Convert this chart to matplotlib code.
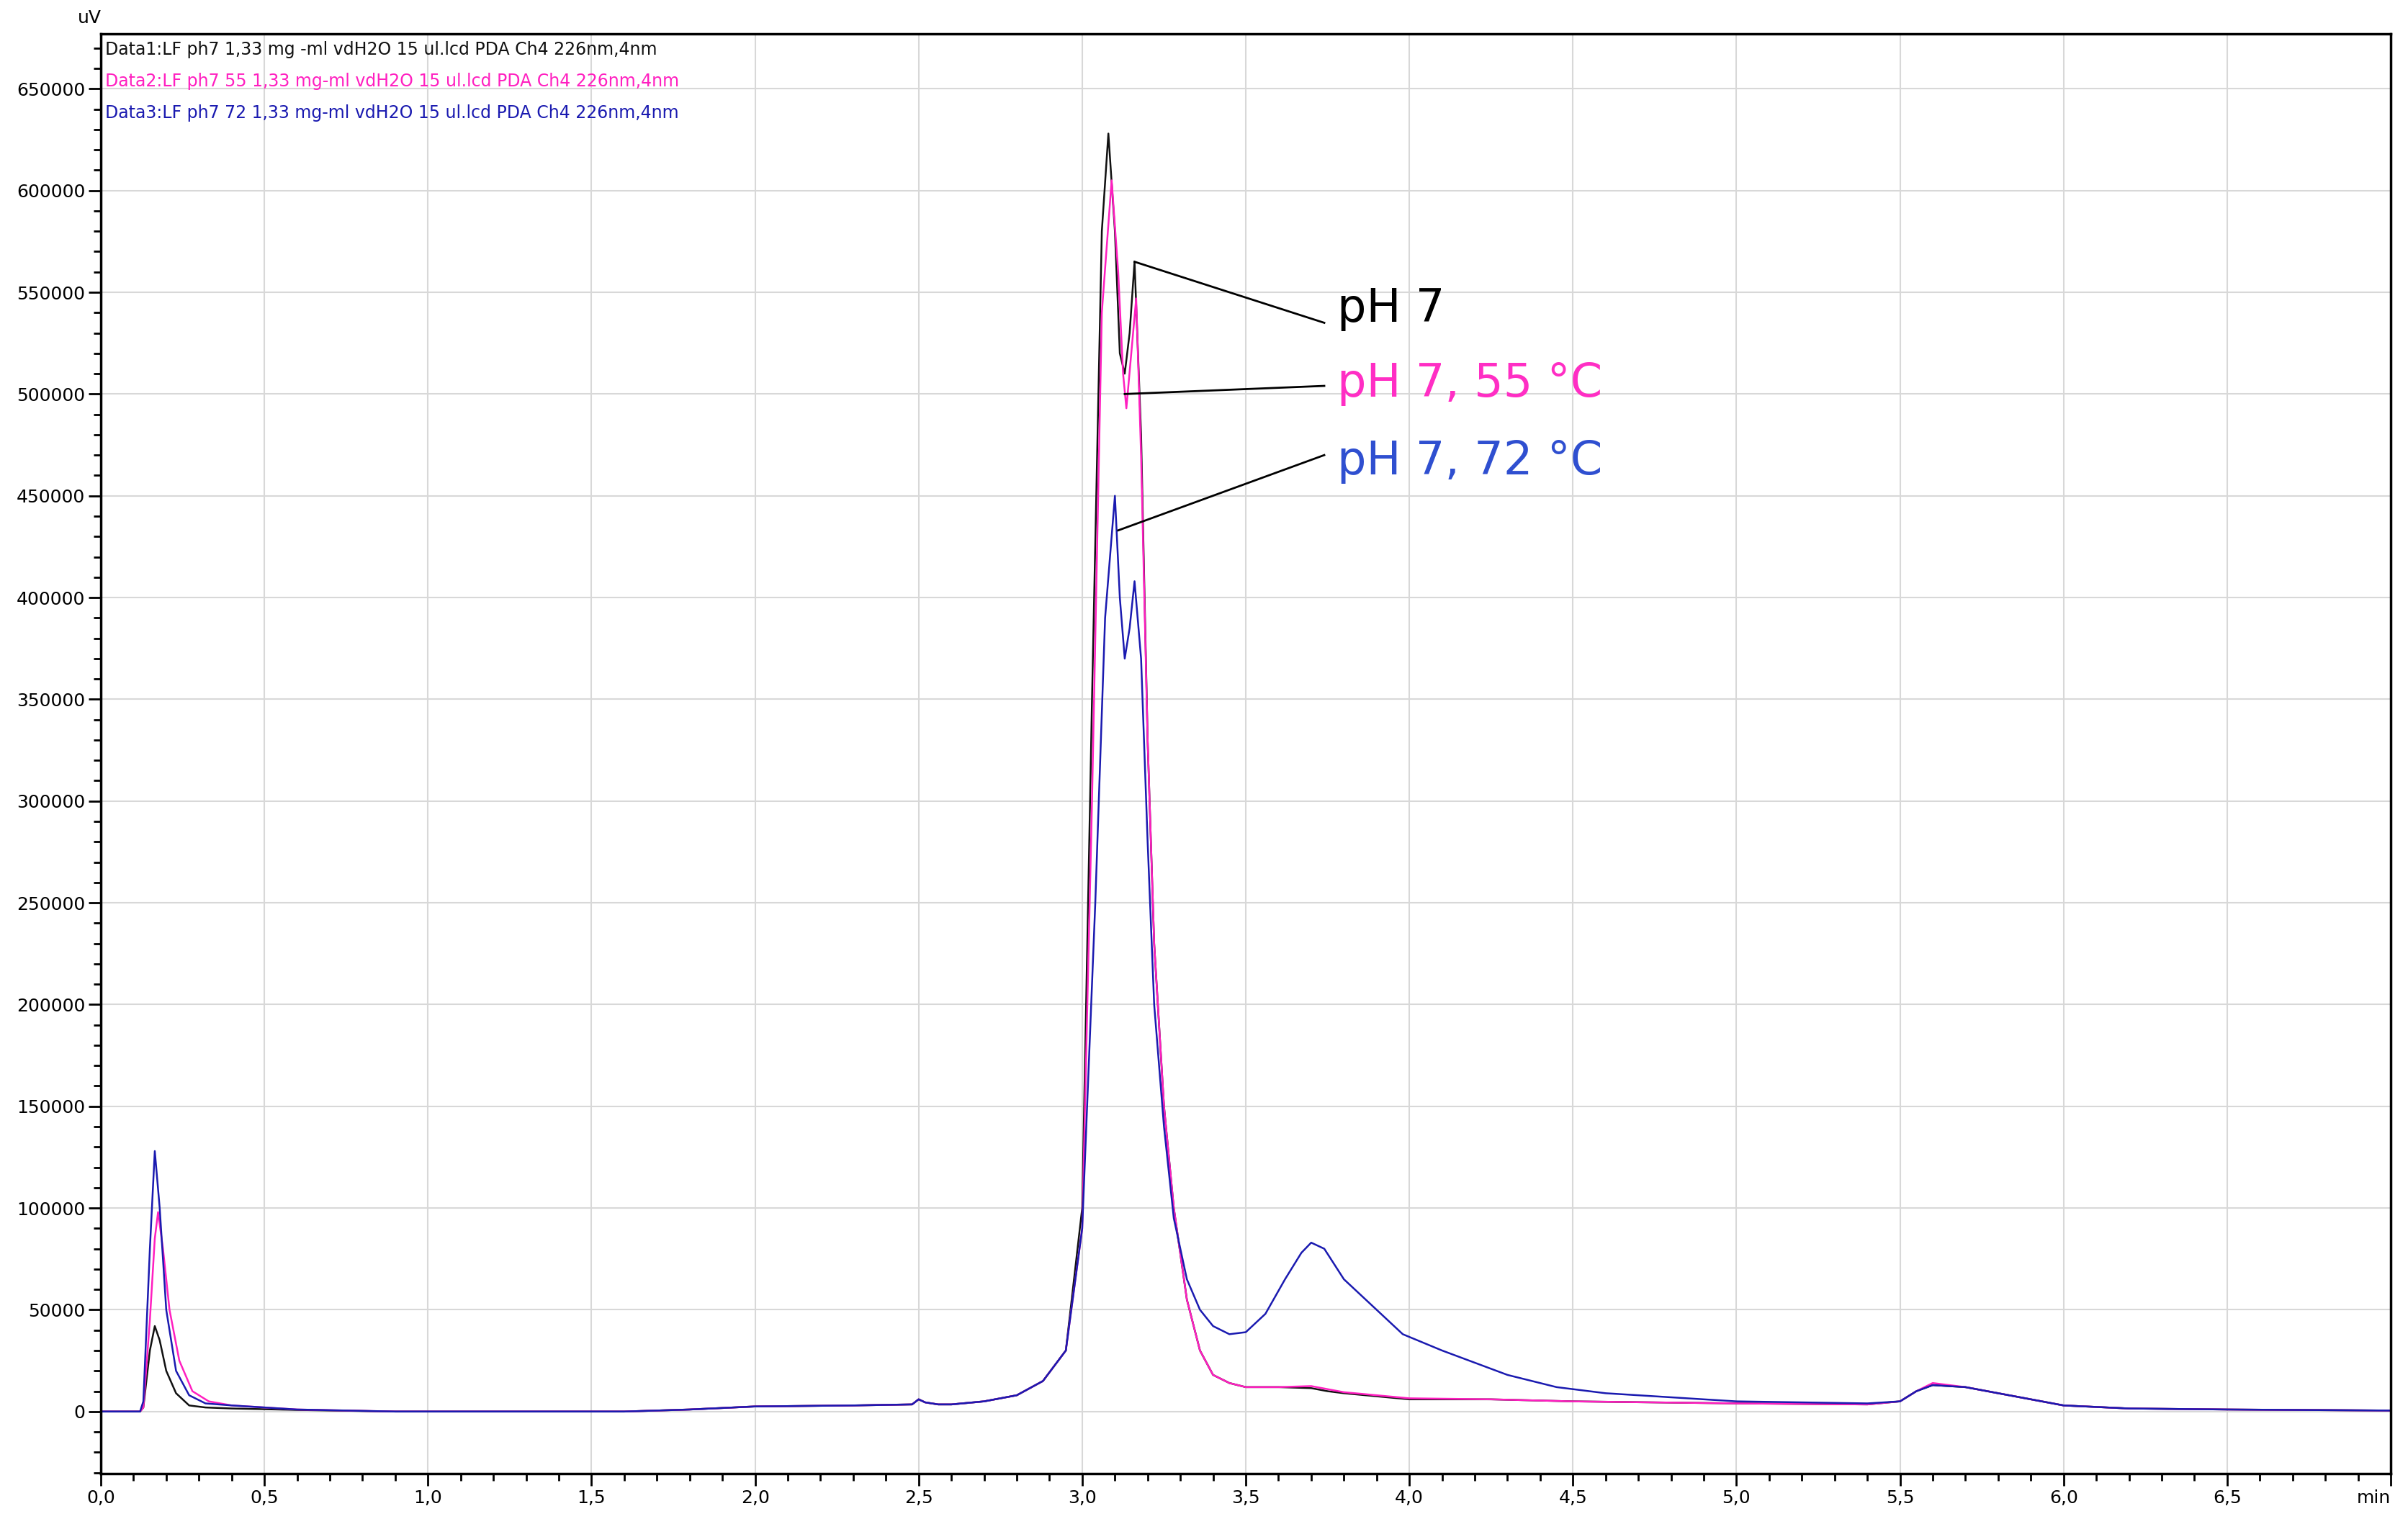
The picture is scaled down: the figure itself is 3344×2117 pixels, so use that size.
import numpy as np
import matplotlib
matplotlib.use("Agg")
import matplotlib.pyplot as plt
from matplotlib.ticker import MultipleLocator

x_black = [0,0.12,0.13,0.15,0.165,0.18,0.2,0.23,0.27,0.32,0.4,0.6,0.9,1.2,1.6,1.8,2.0,2.3,2.48,2.5,2.52,2.56,2.6,2.7,2.8,2.88,2.95,3.0,3.03,3.06,3.08,3.1,3.115,3.13,3.145,3.16,3.18,3.2,3.22,3.25,3.28,3.32,3.36,3.4,3.45,3.5,3.6,3.7,3.75,3.8,4.0,4.25,4.5,5.0,5.4,5.5,5.55,5.6,5.7,5.8,5.9,6.0,6.2,6.5,7.0]
y_black = [0,0,2000,30000,42000,35000,20000,9000,3000,2000,1500,800,0,0,0,1000,2500,3000,3500,6000,4500,3500,3500,5000,8000,15000,30000,100000,350000,580000,628000,580000,520000,510000,530000,565000,480000,330000,230000,150000,100000,55000,30000,18000,14000,12000,12000,11500,10000,9000,6000,6000,5000,4000,3500,5000,10000,13000,12000,9000,6000,3000,1500,1000,500]

x_pink = [0,0.12,0.13,0.15,0.165,0.175,0.19,0.21,0.24,0.28,0.33,0.4,0.6,0.9,1.2,1.6,1.8,2.0,2.3,2.48,2.5,2.52,2.56,2.6,2.7,2.8,2.88,2.95,3.0,3.03,3.06,3.09,3.11,3.125,3.135,3.15,3.165,3.18,3.2,3.22,3.25,3.28,3.32,3.36,3.4,3.45,3.5,3.6,3.7,3.75,3.8,4.0,4.25,4.5,5.0,5.4,5.5,5.55,5.6,5.7,5.8,5.9,6.0,6.2,6.5,7.0]
y_pink = [0,0,2000,45000,85000,98000,80000,50000,25000,10000,5000,3000,1000,0,0,0,1000,2500,3000,3500,6000,4500,3500,3500,5000,8000,15000,30000,90000,300000,540000,605000,560000,510000,493000,520000,547000,470000,330000,230000,150000,100000,55000,30000,18000,14000,12000,12000,12500,11000,9500,6500,6000,5000,4000,3500,5000,10000,14000,12000,9000,6000,3000,1500,1000,500]

x_blue = [0,0.12,0.13,0.15,0.165,0.18,0.2,0.23,0.27,0.32,0.4,0.6,0.9,1.2,1.6,1.8,2.0,2.3,2.48,2.5,2.52,2.56,2.6,2.7,2.8,2.88,2.95,3.0,3.04,3.07,3.1,3.115,3.13,3.145,3.16,3.18,3.2,3.22,3.25,3.28,3.32,3.36,3.4,3.45,3.5,3.56,3.62,3.67,3.7,3.74,3.8,3.9,3.98,4.1,4.2,4.3,4.45,4.6,4.8,5.0,5.4,5.5,5.55,5.6,5.7,5.8,5.9,6.0,6.2,6.5,7.0]
y_blue = [0,0,5000,80000,128000,100000,50000,20000,8000,4000,3000,1000,0,0,0,1000,2500,3000,3500,6000,4500,3500,3500,5000,8000,15000,30000,90000,250000,390000,450000,400000,370000,385000,408000,370000,280000,200000,140000,95000,65000,50000,42000,38000,39000,48000,65000,78000,83000,80000,65000,50000,38000,30000,24000,18000,12000,9000,7000,5000,4000,5000,10000,13000,12000,9000,6000,3000,1500,1000,500]

legend_texts = ["Data1:LF ph7 1,33 mg -ml vdH2O 15 ul.lcd PDA Ch4 226nm,4nm",
                "Data2:LF ph7 55 1,33 mg-ml vdH2O 15 ul.lcd PDA Ch4 226nm,4nm",
                "Data3:LF ph7 72 1,33 mg-ml vdH2O 15 ul.lcd PDA Ch4 226nm,4nm"]
labels = ["pH 7", "pH 7, 55 °C", "pH 7, 72 °C"]
colors = ["#111111", "#ff1fc0", "#1a1ab0"]
label_colors = ["#000000", "#ff2ec4", "#2f4fd0"]
x_ticks = [0,0.5,1,1.5,2,2.5,3,3.5,4,4.5,5,5.5,6,6.5,7]
x_ticklabels = ["0,0","0,5","1,0","1,5","2,0","2,5","3,0","3,5","4,0","4,5","5,0","5,5","6,0","6,5","min"]
y_ticks = list(range(0, 650001, 50000))

fig = plt.figure(figsize=(33.44, 21.17), dpi=100)
ax = fig.add_axes([140/3344, 1-2047/2117, (3320-140)/3344, (2047-47)/2117])
ax.set_xlim(0, 7)
ax.set_ylim(-30500, 677000)
ax.grid(True, which="major", color="#d8d8d8", lw=1.5)
ax.set_axisbelow(True)
for xs, ys, c in zip([x_black, x_pink, x_blue], [y_black, y_pink, y_blue], colors):
    ax.plot(xs, ys, color=c, lw=1.8)
ax.set_xticks(x_ticks)
ax.set_xticklabels(x_ticklabels)
ax.get_xticklabels()[-1].set_ha("right")
ax.set_yticks(y_ticks)
ax.set_yticklabels([str(v) for v in y_ticks])
ax.xaxis.set_minor_locator(MultipleLocator(0.1))
ax.yaxis.set_minor_locator(MultipleLocator(10000))
ax.tick_params(which="major", length=12, width=2, labelsize=18, direction="out")
ax.tick_params(which="minor", length=7, width=2, direction="out")
for s in ax.spines.values():
    s.set_linewidth(2.5)
ax.text(-0.01, 1.005, "uV", transform=ax.transAxes, fontsize=18, ha="left", va="bottom")
for i, (t, c) in enumerate(zip(legend_texts, colors)):
    ax.text(0.002, 0.995 - i*0.022, t, transform=ax.transAxes, color=c, fontsize=17, va="top", ha="left")

ann = [((3.16, 565000), (3.74, 535000), 542000),
       ((3.13, 500000), (3.74, 504000), 505000),
       ((3.11, 433000), (3.74, 470000), 467000)]
for (p0, p1, ty), lab, c in zip(ann, labels, label_colors):
    ax.plot([p0[0], p1[0]], [p0[1], p1[1]], color="black", lw=2)
    ax.text(3.78, ty, lab, color=c, fontsize=46, va="center", ha="left")

fig.savefig("out.png", dpi=100)
